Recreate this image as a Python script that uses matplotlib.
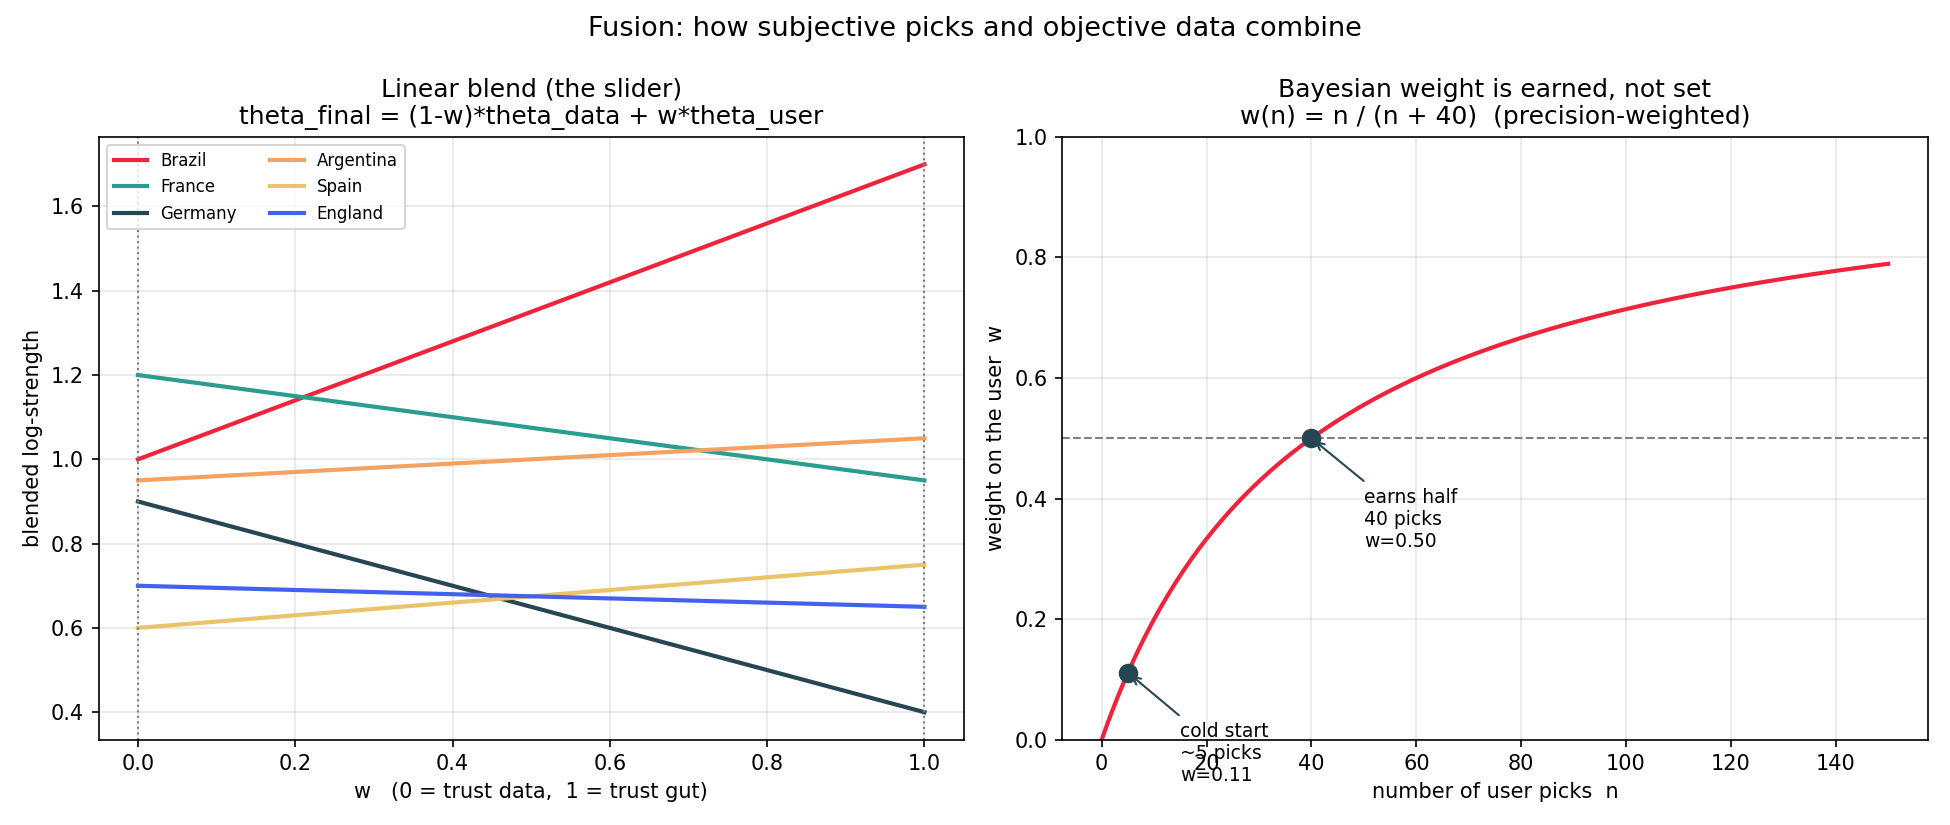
import numpy as np
import matplotlib
matplotlib.use("Agg")
import matplotlib.pyplot as plt

teams = ["Brazil", "France", "Germany", "Argentina", "Spain", "England"]
theta_data = [1.00, 1.20, 0.90, 0.95, 0.60, 0.70]
theta_user = [1.70, 0.95, 0.40, 1.05, 0.75, 0.65]
colors = ["#EF233C", "#2A9D8F", "#264653", "#F4A261", "#E9C46A", "#4361EE"]
w_ends = [0.0, 1.0]

K = 40
n_vals = np.linspace(0, 150, 301)
marked_n = [5, 40]
marked_labels = ["cold start", "earns half"]

fig, (ax1, ax2) = plt.subplots(1, 2, figsize=(13, 5.5), dpi=150)

for t, d, u, c in zip(teams, theta_data, theta_user, colors):
    ax1.plot(w_ends, [d, u], color=c, lw=2, label=t)
for x in w_ends:
    ax1.axvline(x, color="gray", ls=":", lw=1)
ax1.grid(alpha=0.3)
ax1.legend(ncol=2, fontsize=8, loc="upper left")
ax1.set_xlabel("w   (0 = trust data,  1 = trust gut)")
ax1.set_ylabel("blended log-strength")
ax1.set_title("Linear blend (the slider)\ntheta_final = (1-w)*theta_data + w*theta_user")

w_curve = n_vals / (n_vals + K)
ax2.plot(n_vals, w_curve, color="#EF233C", lw=2)
ax2.axhline(0.5, color="gray", ls="--", lw=1)
for n, lab in zip(marked_n, marked_labels):
    w = n / (n + K)
    ax2.scatter([n], [w], s=70, color="#264653", zorder=5)
    ax2.annotate(f"{lab}\n~{n} picks\nw={w:.2f}" if n != K else f"{lab}\n{n} picks\nw={w:.2f}",
                 xy=(n, w), xytext=(n + 10, w - 0.18), fontsize=9,
                 arrowprops=dict(arrowstyle="->", color="#264653"))
ax2.set_ylim(0, 1)
ax2.grid(alpha=0.3)
ax2.set_xlabel("number of user picks  n")
ax2.set_ylabel("weight on the user  w")
ax2.set_title("Bayesian weight is earned, not set\nw(n) = n / (n + 40)  (precision-weighted)")

fig.suptitle("Fusion: how subjective picks and objective data combine", fontsize=13)
fig.tight_layout()
fig.subplots_adjust(top=0.834)
fig.savefig("out.png")
